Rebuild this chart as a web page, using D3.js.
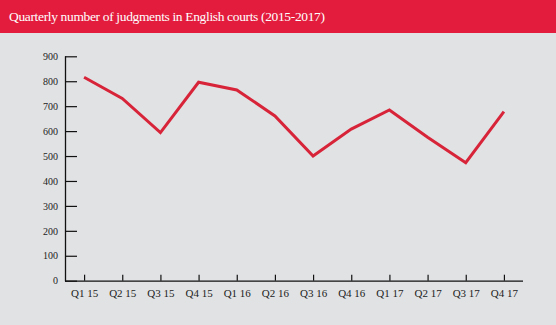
<!DOCTYPE html>
<html><head><meta charset="utf-8">
<script src="https://cdn.jsdelivr.net/npm/d3@7"></script>
<style>
html,body{margin:0;padding:0;background:#e1e2e4;}
svg{display:block;}
text{font-family:"Liberation Serif","DejaVu Serif",serif;}
</style></head>
<body>
<svg id="c" width="556" height="325"></svg>
<script>
const title = "Quarterly number of judgments in English courts (2015-2017)";
const categories = ["Q1 15","Q2 15","Q3 15","Q4 15","Q1 16","Q2 16","Q3 16","Q4 16","Q1 17","Q2 17","Q3 17","Q4 17"];
const judgments = [816,731,594,796,765,661,500,608,685,575,473,678];
const yTicks = [0,100,200,300,400,500,600,700,800,900];

const svg = d3.select("#c");
svg.append("rect").attr("width",556).attr("height",325).attr("fill","#e1e2e4");
svg.append("rect").attr("width",556).attr("height",33).attr("fill","#e31c3d");
svg.append("text").attr("x",9).attr("y",20.5).attr("fill","#fff")
  .attr("font-size",13.5).attr("letter-spacing",-0.35).text(title);

const x = d3.scalePoint().domain(categories).range([65,523]).padding(0.5);
const y = d3.scaleLinear().domain([0,900]).range([280.7,56.3]);

const gy = svg.append("g").attr("transform","translate(65,0)")
  .call(d3.axisRight(y).tickValues(yTicks).tickSize(12).tickFormat(d3.format("d")));
gy.select(".domain").remove();
gy.selectAll(".tick line").attr("stroke","#111").attr("stroke-width",1.2);
gy.selectAll(".tick text").attr("x",-7).attr("text-anchor","end").attr("font-size",10).attr("fill","#222");
svg.append("line").attr("x1",65.5).attr("x2",65.5).attr("y1",y(900)).attr("y2",y(0)+0.6)
  .attr("stroke","#111").attr("stroke-width",1.3);

const gx = svg.append("g").attr("transform",`translate(0,${y(0)})`)
  .call(d3.axisTop(x).tickSize(6).tickSizeOuter(0));
gx.select(".domain").remove();
gx.selectAll(".tick line").attr("stroke","#111").attr("stroke-width",1.2);
gx.selectAll(".tick text").attr("y",16).attr("dy","0").attr("font-size",11).attr("fill","#222");
svg.append("line").attr("x1",65).attr("x2",523).attr("y1",y(0)+0.5).attr("y2",y(0)+0.5)
  .attr("stroke","#111").attr("stroke-width",1.3);

const line = d3.line().x((d,i)=>x(categories[i])).y(d=>y(d));
svg.append("path").datum(judgments).attr("d",line).attr("fill","none")
  .attr("stroke","#d82439").attr("stroke-width",3).attr("stroke-linejoin","miter");
</script>
</body></html>
